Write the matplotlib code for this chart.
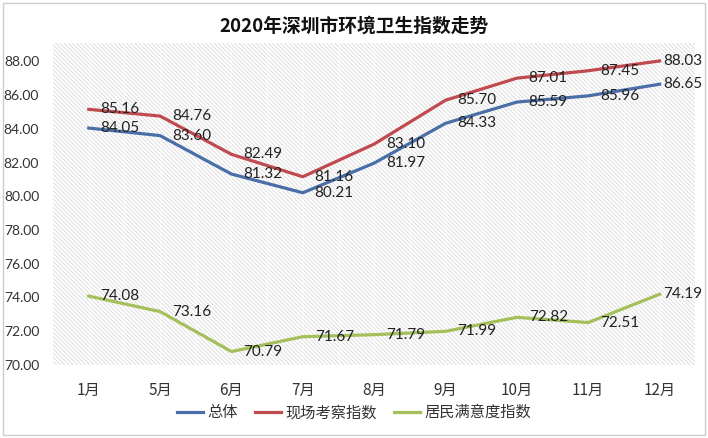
import matplotlib
matplotlib.use("Agg")
import matplotlib.pyplot as plt
from matplotlib.patches import Rectangle

plt.rcParams['font.family'] = ['Noto Sans CJK SC', 'DejaVu Sans']
plt.rcParams['hatch.color'] = '#d9d9d9'
plt.rcParams['hatch.linewidth'] = 0.6

months = ['1月', '5月', '6月', '7月', '8月', '9月', '10月', '11月', '12月']
overall = [84.05, 83.60, 81.32, 80.21, 81.97, 84.33, 85.59, 85.96, 86.65]
onsite = [85.16, 84.76, 82.49, 81.16, 83.10, 85.70, 87.01, 87.45, 88.03]
resident = [74.08, 73.16, 70.79, 71.67, 71.79, 71.99, 72.82, 72.51, 74.19]
series_names = ['总体', '现场考察指数', '居民满意度指数']
colors = ['#4a6ea8', '#c04a4f', '#a4c05a']
yticks = [70, 72, 74, 76, 78, 80, 82, 84, 86, 88]
title = '2020年深圳市环境卫生指数走势'

fig = plt.figure(figsize=(7.08, 4.38), dpi=100)
ax = fig.add_axes([0.075, 0.167, 0.907, 0.735])

ax.set_facecolor('white')
ax.add_patch(Rectangle((0, 0), 1, 1, transform=ax.transAxes, facecolor='white',
                       edgecolor='#d9d9d9', hatch='\\' * 8, linewidth=0, zorder=0))

x = list(range(len(months)))
for xv in x:
    ax.axvline(xv, color='white', lw=0.8, alpha=0.5, zorder=1)
    ax.axvline(xv + 0.5, color='white', lw=0.8, alpha=0.5, zorder=1)

for vals, name, c in zip([overall, onsite, resident], series_names, colors):
    ax.plot(x, vals, color=c, lw=2.3, label=name, zorder=3)
    for xi, v in zip(x, vals):
        dx = 2.5 if xi == x[-1] else 8.5
        ax.annotate(f'{v:.2f}', (xi, v), xytext=(dx, 0), textcoords='offset points',
                    ha='left', va='center', fontsize=11, color='#222222',
                    family=['Lato', 'DejaVu Sans'], zorder=4)

ax.set_xlim(-0.5, 8.5)
ax.set_ylim(70, 89.1)
ax.set_yticks(yticks)
ax.set_yticklabels([f'{v:.2f}' for v in yticks], fontsize=10, color='#333333',
                   family=['Lato', 'DejaVu Sans'])
ax.set_xticks(x)
ax.set_xticklabels(months, fontsize=11, color='#333333')
ax.tick_params(axis='both', length=0)
ax.tick_params(axis='x', pad=12)
ax.tick_params(axis='y', pad=10)
for s in ax.spines.values():
    s.set_visible(False)

fig.text(0.5, 0.94, title, ha='center', va='center', fontsize=13.5, fontweight='bold',
         color='#111111')

leg = fig.legend(loc='center', bbox_to_anchor=(0.5, 0.058), ncol=3, frameon=False,
                 fontsize=11, handlelength=1.7, handletextpad=0.3, columnspacing=1.1)
for t in leg.get_texts():
    t.set_color('#333333')

fig.add_artist(Rectangle((3 / 708, 3 / 438), 702 / 708, 432 / 438, transform=fig.transFigure,
                         fill=False, edgecolor='#cccccc', lw=1.0))

fig.savefig('out.png', dpi=100)
